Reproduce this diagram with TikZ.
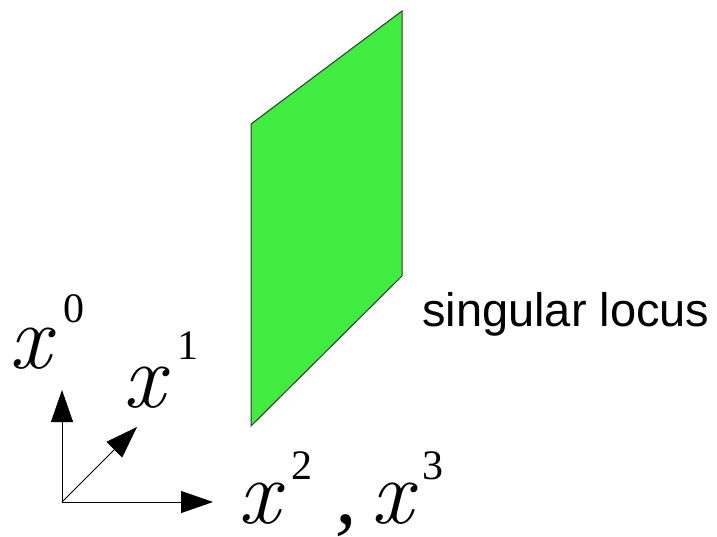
\documentclass[tikz,border=0pt]{standalone}
\usepackage{fontspec}
\newfontfamily\digitfont{Liberation Serif}
\newfontfamily\labelsans{Liberation Sans}
\usetikzlibrary{arrows.meta}
\definecolor{locusgreen}{RGB}{63,236,63}
\definecolor{edgegray}{RGB}{51,51,51}
\tikzset{
  axis/.style={line width=0.9pt, -{Triangle[length=32pt,width=22pt]}},
  bigx/.style={inner sep=0pt, anchor=base west, text depth=0pt, font=\fontsize{92}{92}\selectfont\itshape},
  commamark/.style={inner sep=0pt, anchor=base west, text depth=0pt, font=\fontsize{86}{86}\selectfont\digitfont\itshape},
  supnum/.style={inner sep=0pt, anchor=base west, font=\fontsize{42}{42}\selectfont\digitfont},
  sanslabel/.style={inner sep=0pt, anchor=base west, font=\fontsize{47}{47}\selectfont\labelsans},
  locus/.style={fill=locusgreen, draw=edgegray, line width=1pt, line join=miter}
}
\begin{document}
\begin{tikzpicture}[x=1pt,y=-1pt]
\useasboundingbox (0,0) rectangle (717,536);
% singular locus sheet
\draw[locus] (251,124) -- (402,11) -- (402,276) -- (251,426) -- cycle;
\node[sanslabel] (lab) at (422,326) {singular locus};
% axes
\coordinate (o) at (62,502);
\coordinate (e0) at (62,390);
\coordinate (e1) at (137,427);
\coordinate (e2) at (213,502);
\draw[axis] (o) -- (e0);
\draw[axis] (o) -- (e1);
\draw[axis] (o) -- (e2);
% labels
\node[bigx] (x0) at (9,368) {x};
\node[supnum] (s0) at (63,322) {0};
\node[bigx] (x1) at (123,407) {x};
\node[supnum] (s1) at (177,359) {1};
\node[bigx] (x2) at (238,523) {x};
\node[supnum] (s2) at (291,479) {2};
\node[commamark] (cm) at (335,523) {\smash{,}};
\node[bigx] (x3) at (371,523) {x};
\node[supnum] (s3) at (422,479) {3};
\end{tikzpicture}
\end{document}
